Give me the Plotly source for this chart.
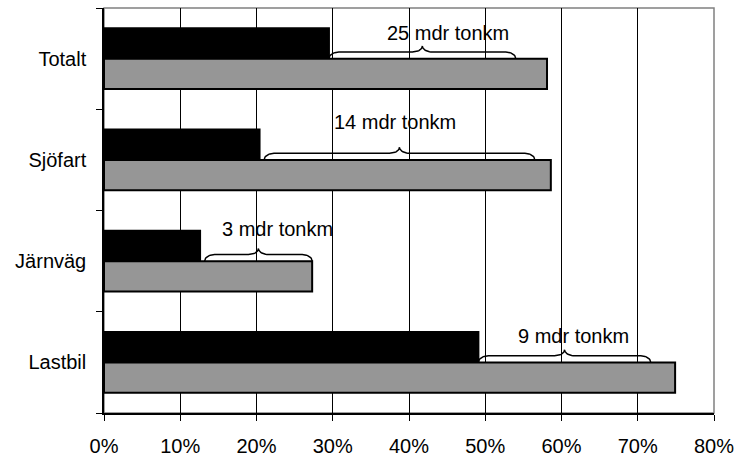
import numpy as np
import plotly.graph_objects as go

# Transport categories, top to bottom
categories = ["Totalt", "Sjöfart", "Järnväg", "Lastbil"]

# Shares in percent
share_black = [29.5, 20.4, 12.6, 49.1]
share_gray = [58.1, 58.6, 27.3, 74.9]

# Brace spans (percent) and their labels
brace_start = [29.5, 21.0, 13.2, 49.1]
brace_end = [54.0, 56.5, 27.3, 71.7]
brace_labels = ["25 mdr tonkm", "14 mdr tonkm", "3 mdr tonkm", "9 mdr tonkm"]
label_x = [45.1, 38.1, 22.8, 61.6]
label_dy = [-0.25, -0.37, -0.32, -0.265]

x_ticks = [0, 10, 20, 30, 40, 50, 60, 70, 80]
x_ticktext = ["0%", "10%", "20%", "30%", "40%", "50%", "60%", "70%", "80%"]

FONT = "Liberation Sans, Arial, sans-serif"
FS = 20
pos = list(range(len(categories)))


def brace(x0, x1, c, dx=1.3, h_arm=0.065, h_tip=0.125, n=12):
    """Curly brace opening downward onto the line y=c, spanning x0..x1."""
    m = (x0 + x1) / 2
    t = np.linspace(0, np.pi / 2, n)
    # left end curve
    xa = x0 + dx - dx * np.cos(t)
    ya = c - h_arm * np.sin(t)
    # curve up to the tip
    xb = m - dx + dx * np.sin(t)
    yb = c - h_tip + (h_tip - h_arm) * np.cos(t)
    left_x = np.concatenate([xa, xb])
    left_y = np.concatenate([ya, yb])
    right_x = (2 * m - left_x)[::-1]
    right_y = left_y[::-1]
    return np.concatenate([left_x, right_x]), np.concatenate([left_y, right_y])


fig = go.Figure()

fig.add_trace(go.Bar(
    y=pos, x=share_black, orientation="h",
    marker=dict(color="#000000", line=dict(color="#000000", width=2)),
    showlegend=False, hoverinfo="skip",
))
fig.add_trace(go.Bar(
    y=pos, x=share_gray, orientation="h",
    marker=dict(color="#969696", line=dict(color="#000000", width=2)),
    showlegend=False, hoverinfo="skip",
))

for i in pos:
    bx, by = brace(brace_start[i], brace_end[i], i)
    fig.add_trace(go.Scatter(
        x=bx, y=by, mode="lines",
        line=dict(color="#000000", width=1.5),
        showlegend=False, hoverinfo="skip",
    ))
    fig.add_annotation(
        x=label_x[i], y=i + label_dy[i], text=brace_labels[i],
        showarrow=False, font=dict(family=FONT, size=FS, color="#000000"),
    )

# plot-area frame (top and right edges in gray)
fig.add_shape(type="rect", xref="paper", yref="paper", x0=0, x1=1, y0=0, y1=1,
              line=dict(color="#808080", width=1.5), layer="below")

fig.update_layout(
    width=738, height=457,
    margin=dict(l=104, r=24, t=8, b=44),
    paper_bgcolor="#ffffff", plot_bgcolor="#ffffff",
    barmode="group", bargap=0.4, bargroupgap=0,
    font=dict(family=FONT, size=FS, color="#000000"),
    xaxis=dict(
        range=[0, 80], tickmode="array", tickvals=x_ticks, ticktext=x_ticktext,
        showgrid=True, gridcolor="#000000", gridwidth=1,
        showline=True, linecolor="#000000", linewidth=1.5,
        ticks="outside", ticklen=6, tickcolor="#000000",
        ticklabelstandoff=8, zeroline=False, automargin=False,
    ),
    yaxis=dict(
        range=[3.5, -0.5], tickmode="array", tickvals=pos, ticktext=categories,
        showgrid=False, zeroline=False,
        showline=True, linecolor="#000000", linewidth=1.5,
        ticks="", ticklabelstandoff=12, automargin=False,
        minor=dict(tickvals=[-0.5, 0.5, 1.5, 2.5, 3.5], ticks="outside",
                   ticklen=6, tickcolor="#000000", showgrid=False),
    ),
)

fig.write_html("out.html")
